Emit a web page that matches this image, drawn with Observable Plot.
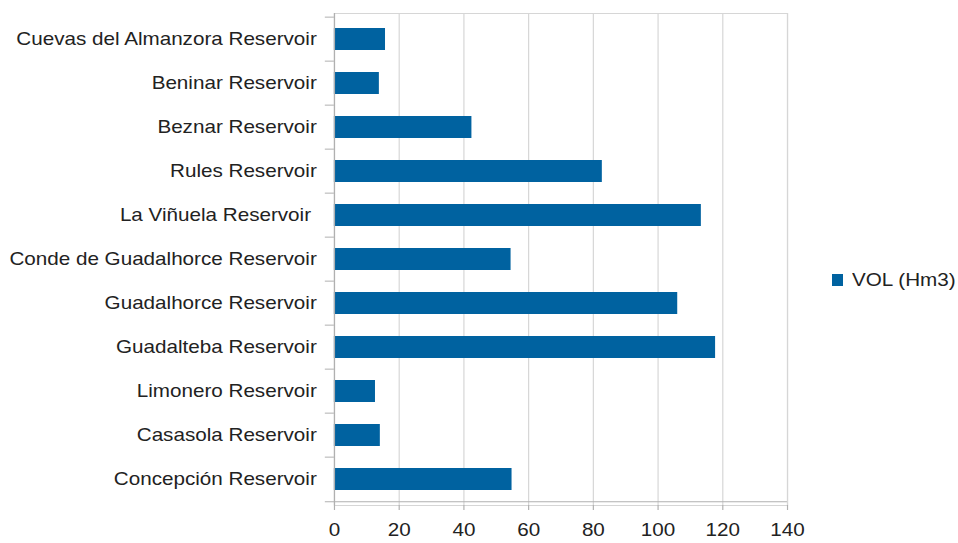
<!DOCTYPE html>
<html>
<head>
<meta charset="utf-8">
<script src="https://cdn.jsdelivr.net/npm/d3@7"></script>
<script src="https://cdn.jsdelivr.net/npm/@observablehq/plot@0.6"></script>
<style>
  html, body { margin: 0; padding: 0; background: #fff; }
  #wrap { position: relative; width: 958px; height: 543px; overflow: hidden; font-family: "Liberation Sans", Arial, sans-serif; }
  #legend { position: absolute; left: 832px; top: 270px; display: flex; align-items: center; height: 20px; }
  #legend .sw { width: 11px; height: 12px; margin-right: 9px; }
  #legend .lb { font-size: 17.5px; color: #222; transform: scaleX(1.18); transform-origin: left center; white-space: nowrap; }
</style>
</head>
<body>
<div id="wrap"></div>
<script>
// ---- data ----
const categories = [
  "Cuevas del Almanzora Reservoir",
  "Beninar Reservoir",
  "Beznar Reservoir",
  "Rules Reservoir",
  "La Viñuela Reservoir\u00A0",
  "Conde de Guadalhorce Reservoir",
  "Guadalhorce Reservoir",
  "Guadalteba Reservoir",
  "Limonero Reservoir",
  "Casasola Reservoir",
  "Concepción Reservoir"
];
const volumes = [15.8, 13.9, 42.5, 82.8, 113.4, 54.6, 106.1, 117.8, 12.7, 14.2, 54.9];
const xTicks = [0, 20, 40, 60, 80, 100, 120, 140];
const seriesName = "VOL (Hm3)";

// ---- layout / style ----
const barColor = "#0062a0";
const gridColor = "#d6d6d6";
const axisColor = "#b0b0b0";
const stretch = 1.18;              // the reference is horizontally stretched
const outW = 958, H = 543;
const W = Math.round(outW / stretch);
const mTop = 13, mBottom = 38;
const mLeft = Math.round(334 / stretch);
const mRight = Math.round((outW - 787) / stretch);
const step = (H - mTop - mBottom) / categories.length;

const data = categories.map((name, i) => ({name, vol: volumes[i]}));

const chart = Plot.plot({
  width: W,
  height: H,
  marginTop: mTop,
  marginBottom: mBottom,
  marginLeft: mLeft,
  marginRight: mRight,
  style: {fontFamily: "'Liberation Sans', Arial, sans-serif", fontSize: "17.5px", color: "#222", background: "#fff"},
  x: {domain: [0, 140], ticks: xTicks, label: null},
  y: {domain: categories, paddingInner: 0.5, paddingOuter: 0.25, label: null},
  marks: [
    Plot.frame({stroke: gridColor}),
    Plot.gridX(xTicks, {stroke: gridColor, strokeOpacity: 1}),
    Plot.barX(data, {x: "vol", y: "name", fill: barColor}),
    // category boundary ticks on the left
    Plot.ruleY(categories, {y: d => d, dy: -step / 2, x1: -2.8, x2: 0, stroke: axisColor}),
    // bottom axis line (with the last boundary tick)
    Plot.ruleY([categories[categories.length - 1]], {y: d => d, dy: step / 2, x1: -2.8, x2: 140, stroke: axisColor}),
    Plot.ruleX([0], {stroke: axisColor}),
    Plot.axisX({ticks: xTicks, tickSize: 5, tickPadding: 13, stroke: axisColor, label: null}),
    Plot.axisY({tickSize: 0, tickPadding: 15, label: null})
  ]
});

chart.setAttribute("width", outW);
chart.setAttribute("height", H);
chart.setAttribute("preserveAspectRatio", "none");
chart.style.width = outW + "px";
chart.style.height = H + "px";
chart.style.maxWidth = "none";

const wrap = document.getElementById("wrap");
wrap.appendChild(chart);

const legend = document.createElement("div");
legend.id = "legend";
legend.innerHTML = `<div class="sw" style="background:${barColor}"></div><div class="lb"></div>`;
legend.querySelector(".lb").textContent = seriesName;
wrap.appendChild(legend);
</script>
</body>
</html>
